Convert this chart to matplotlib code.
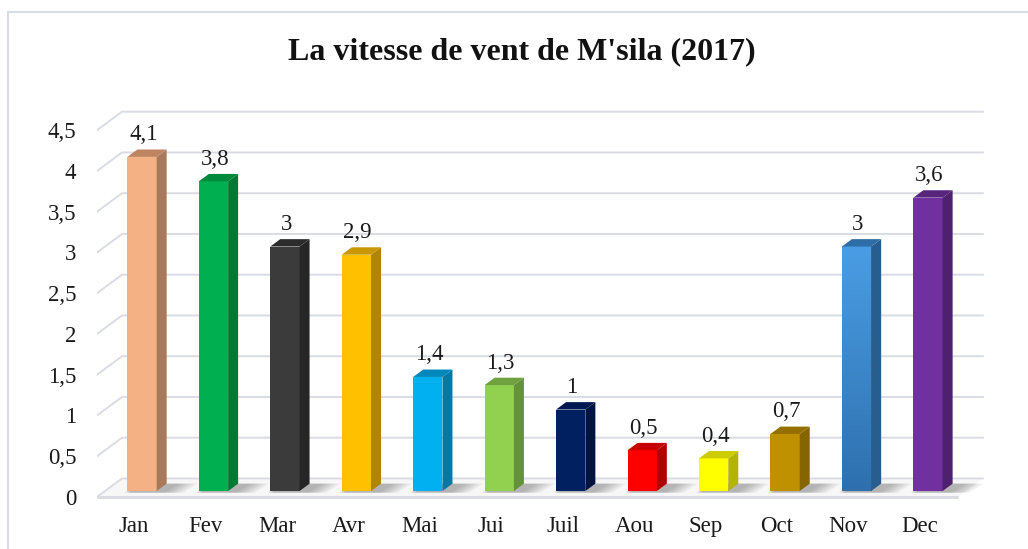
import numpy as np
import matplotlib.pyplot as plt
from matplotlib.patches import Polygon, Rectangle
from matplotlib.colors import to_rgb

# Données
mois = ["Jan", "Fev", "Mar", "Avr", "Mai", "Jui", "Juil", "Aou", "Sep", "Oct", "Nov", "Dec"]
vitesse = [4.1, 3.8, 3.0, 2.9, 1.4, 1.3, 1.0, 0.5, 0.4, 0.7, 3.0, 3.6]
couleurs = ["#F4B183", "#00B050", "#3B3B3B", "#FFC000", "#00B0F0", "#92D050",
            "#002060", "#FF0000", "#FFFF00", "#BF9000", "#3F8FD8", "#7030A0"]
cotes = ["#A97A5A", "#007A33", "#262626", "#B08500", "#0079A6", "#64923A",
         "#001443", "#B00000", "#B3B300", "#866500", "#275E8F", "#4E216F"]
dessus = ["#BE8462", "#00893A", "#2C2C2C", "#C99800", "#0087BB", "#6FA23F",
          "#001850", "#C80000", "#CCCC00", "#957000", "#2F6DA8", "#58257D"]
graduations = [0, 0.5, 1, 1.5, 2, 2.5, 3, 3.5, 4, 4.5]

plt.rcParams['font.family'] = ['Liberation Serif', 'DejaVu Serif']

fig = plt.figure(figsize=(10.28, 5.49), dpi=100)
W, H = 1028, 549
ax = fig.add_axes([97 / W, (H - 510) / H, (1000 - 97) / W, (510 - 110) / H])

# Géométrie pseudo-3D (unités des données)
DX, DY = 0.35, 0.227          # profondeur totale (mur du fond)
f0, f1 = 0.32, 0.72           # profondeur des barres
ox, oy = DX * f0, DY * f0
sdx, sdy = DX * (f1 - f0), DY * (f1 - f0)
largeur = 0.41
x_gauche, x_droite = -0.518, 11.53

# Sol
ax.add_patch(Polygon([(x_gauche, 0), (x_droite, 0), (x_droite + DX, DY), (x_gauche + DX, DY)],
                     closed=True, facecolor="#F7F7F8", edgecolor="none", zorder=1))
ax.plot([x_gauche, x_droite], [0, 0], color="#D9DCE3", lw=2.2, zorder=1.5, solid_capstyle="butt")

# Quadrillage du mur du fond
for v in graduations:
    ax.plot([x_gauche, x_gauche + DX, x_droite + DX], [v, v + DY, v + DY],
            color="#D9DCE3", lw=1.4, zorder=1)

# Barres
for i, v in enumerate(vitesse):
    x0 = i + ox - largeur / 2
    x1 = i + ox + largeur / 2
    # ombre portée
    for k in range(6):
        e = 0.05 * k
        ax.add_patch(Polygon([(x0 - 0.04 + e * 0.3, oy - 0.02), (x1 + 0.12 + e, oy - 0.02),
                              (x1 + sdx + 0.18 + e, oy + sdy), (x0 + sdx, oy + sdy)],
                             closed=True, facecolor="#404040", edgecolor="none",
                             alpha=0.07, zorder=2))
    # face avant
    if mois[i] == "Nov":
        haut = np.array(to_rgb("#4A9DE4"))
        bas = np.array(to_rgb("#2E70AE"))
        t = np.linspace(0, 1, 100)[:, None]
        grad = (haut * (1 - t) + bas * t)[:, None, :]
        ax.imshow(grad, extent=(x0, x1, oy, v + oy), aspect="auto", origin="upper", zorder=3)
    else:
        ax.add_patch(Rectangle((x0, oy), x1 - x0, v, facecolor=couleurs[i],
                               edgecolor="none", zorder=3))
    # face latérale
    ax.add_patch(Polygon([(x1, oy), (x1, v + oy), (x1 + sdx, v + oy + sdy), (x1 + sdx, oy + sdy)],
                         closed=True, facecolor=cotes[i], edgecolor="none", zorder=3))
    # dessus
    ax.add_patch(Polygon([(x0, v + oy), (x1, v + oy), (x1 + sdx, v + oy + sdy), (x0 + sdx, v + oy + sdy)],
                         closed=True, facecolor=dessus[i], edgecolor="none", zorder=3))
    # étiquette
    ax.text(i + ox + 0.02, v + oy + 0.27, f"{v:g}".replace(".", ","),
            ha="center", va="center", fontsize=16.5, color="#1A1A1A", zorder=4)

ax.set_xlim(-0.518, 12.12)
ax.set_ylim(-0.16, 4.748)
ax.set_xticks(range(len(mois)))
ax.set_xticklabels(mois, fontsize=16.5, color="#1A1A1A")
ax.set_yticks(graduations)
ax.set_yticklabels([f"{g:g}".replace(".", ",") for g in graduations], fontsize=16.5, color="#1A1A1A")
ax.tick_params(axis="x", length=0, pad=4.5)
ax.tick_params(axis="y", length=0, pad=15)
for s in ax.spines.values():
    s.set_visible(False)

fig.text(522 / W, 1 - 52 / H, "La vitesse de vent de M'sila (2017)",
         ha="center", va="center", fontsize=23, fontweight="bold", color="#111111")

# Cadre
fig.add_artist(Rectangle((8 / W, -0.1), 1.2, 1.1 - 12 / H, transform=fig.transFigure,
                         facecolor="none", edgecolor="#D9DCE3", lw=1.5))

fig.savefig("out.png", dpi=100)
